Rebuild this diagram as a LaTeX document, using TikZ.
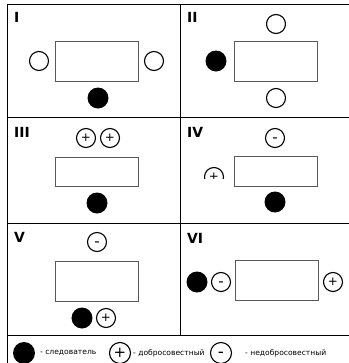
\documentclass[tikz,border=0pt]{standalone}
\usepackage{fontspec}
\setmainfont{DejaVu Sans}
\usetikzlibrary{positioning}
\definecolor{boxgray}{HTML}{5A5A5A}
\tikzset{x=1bp,y=-1bp,line width=.9bp,
  every node/.style={font=\small},
  frame/.style={draw=black,line width=.9bp},
  room/.style={draw=boxgray,line width=.9bp,minimum width=83bp,minimum height=40bp,inner sep=0pt},
  person/.style={circle,draw=black,line width=1.1bp,minimum size=19bp,inner sep=0pt,
    font=\fontsize{12}{12}\selectfont},
  minus/.style={person,font=\fontsize{15}{15}\selectfont,text height=8.4bp,text depth=0bp},
  lead/.style={circle,fill=black,minimum size=21bp,inner sep=0pt},
  casenum/.style={anchor=north west,inner sep=0pt,font=\fontsize{14}{14}\selectfont\bfseries},
  legendtext/.style={anchor=west,inner sep=0pt,font=\fontsize{7.6}{9}\selectfont}}

\begin{document}
\begin{tikzpicture}
\useasboundingbox (0,0) rectangle (349,363);
% grid
\draw[frame] (7.5,4) -- (349,4);
\draw[frame] (7.5,117) -- (349,117);
\draw[frame] (7.5,223) -- (349,223);
\draw[frame] (7.5,335) -- (349,335);
\draw[frame] (7.5,4) -- (7.5,363);
\draw[frame] (180,4) -- (180,335);

% I
\node[casenum] (n1) at (14,12) {I};
\node[room] (r1) at (97,61) {};
\node[person] (p1a) at (39,61) {};
\node[person] (p1b) at (154,61) {};
\node[lead] (l1) at (98,98) {};

% II
\node[casenum] (n2) at (187,12) {II};
\node[room] (r2) at (275.5,61) {};
\node[person] (p2a) at (276,24) {};
\node[person] (p2b) at (276,98) {};
\node[lead] (l2) at (216,61) {};

% III
\node[casenum] (n3) at (14,127) {III};
\node[room,minimum height=29bp] (r3) at (96.5,171.5) {};
\node[person] (p3a) at (86,138) {+};
\node[person] (p3b) at (110,138) {+};
\node[lead] (l3) at (97,203) {};

% IV
\node[casenum] (n4) at (187,127) {IV};
\node[room,minimum height=30bp] (r4) at (275.5,171) {};
\node[minus] (p4a) at (275,138) {-};
\begin{scope}
  \clip (200,160) rectangle (230,178.5);
  \node[person] (p4b) at (214,177) {+};
\end{scope}
\node[lead] (l4) at (275,202) {};

% V
\node[casenum] (n5) at (14,232) {V};
\node[room] (r5) at (96.5,281) {};
\node[minus] (p5a) at (97,242) {-};
\node[lead] (l5) at (82,318) {};
\node[person] (p5b) at (106,318) {+};

% VI
\node[casenum] (n6) at (187,233) {VI};
\node[room] (r6) at (276.5,280.5) {};
\node[lead] (l6) at (197,282) {};
\node[minus] (p6a) at (221,282) {-};
\node[person] (p6b) at (333,282) {+};

% legend
\node[lead,minimum size=22bp] (kl) at (24,353) {};
\node[legendtext] (tl) at (40,353) {- следователь};
\node[person,minimum size=21bp,font=\fontsize{15}{15}\selectfont] (kg) at (120,353) {+};
\node[legendtext] (tg) at (133,353) {- добросовестный};
\node[minus,minimum size=21bp,font=\fontsize{17}{17}\selectfont,text height=9.5bp] (kb) at (221,353) {-};
\node[legendtext] (tb) at (245,353) {- недобросовестный};
\end{tikzpicture}
\end{document}
